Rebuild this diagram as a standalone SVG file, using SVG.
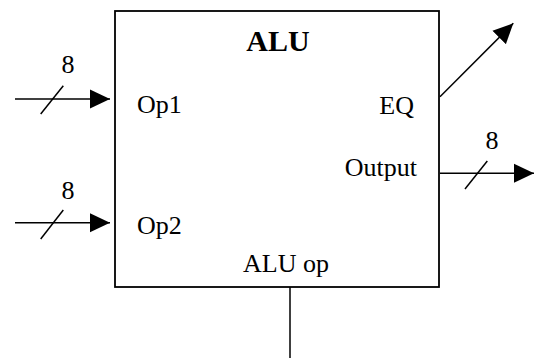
<svg xmlns="http://www.w3.org/2000/svg" width="538" height="358" viewBox="0 0 538 358">
  <style>
    .wire { fill: none; stroke: #000; stroke-width: 1.5; }
    .box { fill: #fff; stroke: #000; stroke-width: 1.8; }
    .lbl { font-family: "Liberation Serif", "Times New Roman", serif; font-size: 26px; fill: #000; }
    .title { font-family: "Liberation Serif", "Times New Roman", serif; font-size: 30px; font-weight: bold; fill: #000; }
  </style>
  <defs>
    <marker id="arrow" viewBox="0 0 20 20" refX="20" refY="10" markerWidth="20" markerHeight="20" markerUnits="userSpaceOnUse" orient="auto">
      <path d="M0,0.5 L20,10 L0,19.5 Z" fill="#000"/>
    </marker>
  </defs>

  <g id="alu">
    <rect class="box" x="115" y="11" width="324" height="276"/>
    <text class="title" x="278" y="51" text-anchor="middle">ALU</text>
    <text class="lbl" x="137" y="113">Op1</text>
    <text class="lbl" x="137" y="234">Op2</text>
    <text class="lbl" x="414" y="114" text-anchor="end">EQ</text>
    <text class="lbl" x="417" y="176" text-anchor="end">Output</text>
    <text class="lbl" x="286" y="272" text-anchor="middle">ALU op</text>
  </g>

  <g id="connectors">
    <!-- Op1 bus, 8 bits -->
    <line class="wire" x1="15" y1="99" x2="110" y2="99" marker-end="url(#arrow)"/>
    <line class="wire" x1="40.7" y1="114" x2="63.3" y2="85.7"/>
    <text class="lbl" x="68" y="73" text-anchor="middle">8</text>
    <!-- Op2 bus, 8 bits -->
    <line class="wire" x1="15" y1="222.7" x2="110" y2="222.7" marker-end="url(#arrow)"/>
    <line class="wire" x1="40.7" y1="239" x2="63.3" y2="210"/>
    <text class="lbl" x="68" y="199" text-anchor="middle">8</text>
    <!-- EQ flag -->
    <line class="wire" x1="440" y1="96.7" x2="513.3" y2="23.3" marker-end="url(#arrow)"/>
    <!-- Output bus, 8 bits -->
    <line class="wire" x1="440" y1="173.3" x2="534" y2="173.3" marker-end="url(#arrow)"/>
    <line class="wire" x1="465" y1="189" x2="487.3" y2="161"/>
    <text class="lbl" x="492" y="149" text-anchor="middle">8</text>
    <!-- ALU op control -->
    <line class="wire" x1="290" y1="287" x2="290" y2="358"/>
  </g>
</svg>
